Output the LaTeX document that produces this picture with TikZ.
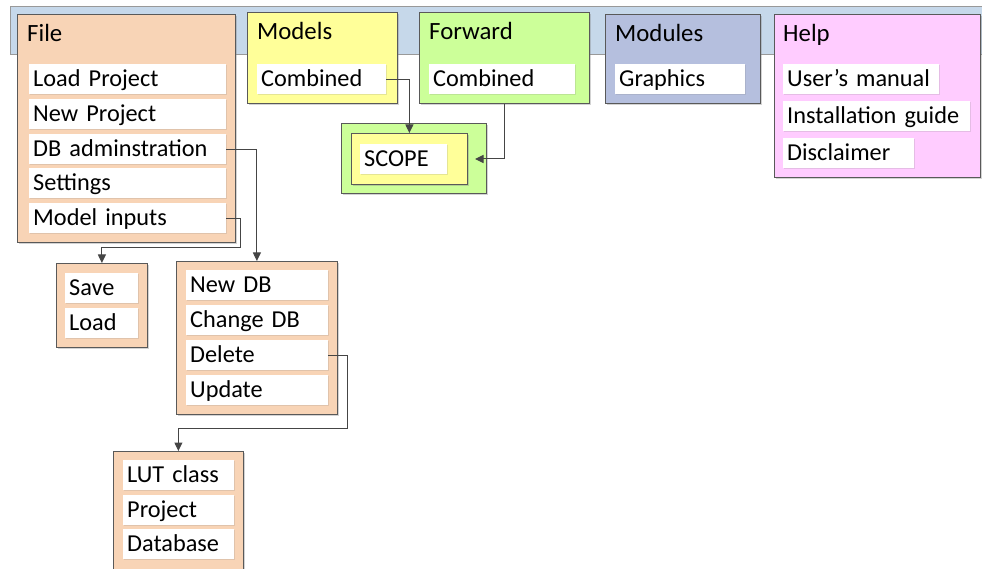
\documentclass[tikz,border=0pt]{standalone}
\usepackage{fontspec}
\setmainfont{Carlito}
\usetikzlibrary{shadows,calc,arrows.meta}
\definecolor{barblue}{HTML}{C6D8EA}
\definecolor{filepeach}{HTML}{F8D4B6}
\definecolor{modyellow}{HTML}{FFFF99}
\definecolor{fwdgreen}{HTML}{CCFF99}
\definecolor{modblue}{HTML}{B5BFDE}
\definecolor{helppink}{HTML}{FFCCFF}
\definecolor{edge}{HTML}{595959}
\definecolor{wire}{HTML}{454545}
\tikzset{
  panel/.style={draw=edge, line width=0.8pt, anchor=north west, inner sep=0pt,
    drop shadow={shadow xshift=1.5pt, shadow yshift=-1.5pt, opacity=0.35}},
  item/.style={fill=white, anchor=north west, inner xsep=4pt, inner ysep=0pt,
    minimum height=30, text height=15.5pt, text depth=0pt, align=left,
    font=\fontsize{24.3}{28}\selectfont,
    drop shadow={shadow xshift=1pt, shadow yshift=-1pt, opacity=0.2}},
  header/.style={anchor=base west, inner sep=0pt, font=\fontsize{24.8}{28}\selectfont},
  conn/.style={draw=wire, line width=1pt, -{Triangle[length=8.5pt,width=8pt]}},
}
\begin{document}
\begin{tikzpicture}[x=1pt,y=-1pt]
\useasboundingbox (0,0) rectangle (982,569);
\clip (0,0) rectangle (982,569);

% menu bar
\path[fill=barblue, draw=gray!80, line width=0.8pt] (10,6) rectangle (995,54);

% File menu
\node[panel, fill=filepeach, minimum width=218, minimum height=228] (filebox) at (17,14) {};
\node[header] (filehd) at (27,42) {File};
\node[item, text width=189] (loadproj) at (29,64) {Load Project};
\node[item, text width=189] (newproj) at (29,99) {New Project};
\node[item, text width=189] (dbadm) at (29,134) {DB adminstration};
\node[item, text width=189] (settings) at (29,168) {Settings};
\node[item, text width=189] (minputs) at (29,203) {Model inputs};

% Models menu
\node[panel, fill=modyellow, minimum width=150, minimum height=91] (modelsbox) at (247,12) {};
\node[header] (modelshd) at (257,40) {Models};
\node[item, text width=121] (mcomb) at (257,64) {Combined};

% Forward menu
\node[panel, fill=fwdgreen, minimum width=170, minimum height=91] (fwdbox) at (419,12) {};
\node[header] (fwdhd) at (429,40) {Forward};
\node[item, text width=138] (fcomb) at (429,64) {Combined};

% Modules menu
\node[panel, fill=modblue, minimum width=155, minimum height=89] (modbox) at (605,14) {};
\node[header] (modhd) at (615,42) {Modules};
\node[item, text width=122] (graphics) at (615,64) {Graphics};

% Help menu
\node[panel, fill=helppink, minimum width=206, minimum height=163] (helpbox) at (774,14) {};
\node[header] (helphd) at (783,42) {Help};
\node[item, text width=148] (manual) at (783,64) {User’s manual};
\node[item, text width=179] (install) at (783,101) {Installation guide};
\node[item, text width=123] (disclaim) at (783,138) {Disclaimer};

% SCOPE submenu
\node[panel, fill=fwdgreen, minimum width=145, minimum height=70] (scout) at (341,123) {};
\node[panel, fill=modyellow, minimum width=116, minimum height=51] (scin) at (351,133) {};
\node[item, text width=79] (scope) at (360,144) {SCOPE};
\coordinate (scentry) at (475,159);

% Save / Load submenu
\node[panel, fill=filepeach, minimum width=91, minimum height=84] (savebox) at (56,263) {};
\node[item, text width=65] (save) at (65,273) {Save};
\node[item, text width=65] (load) at (65,308) {Load};

% DB submenu
\node[panel, fill=filepeach, minimum width=161, minimum height=153] (dbbox) at (176,261) {};
\node[item, text width=134] (newdb) at (186,270) {New DB};
\node[item, text width=134] (changedb) at (186,305) {Change DB};
\node[item, text width=134] (delete) at (186,340) {Delete};
\node[item, text width=134] (update) at (186,375) {Update};

% Delete submenu
\node[panel, fill=filepeach, minimum width=130, minimum height=130] (lutbox) at (113,451) {};
\node[item, text width=103] (lut) at (123,460) {LUT class};
\node[item, text width=103] (project) at (123,495) {Project};
\node[item, text width=103] (database) at (123,529) {Database};

% connectors
\draw[conn] (mcomb.east) -| (scin.north);
\draw[conn] (fwdbox.south) |- (scentry);
\draw[conn] (dbadm.east) -| (dbbox.north);
\draw[conn] (minputs.east) -- ++(14,0) |- ($(savebox.north)+(0,-15)$) -- (savebox.north);
\draw[conn] (delete.east) -- ++(19,0) |- ($(lutbox.north)+(0,-23)$) -- (lutbox.north);
\end{tikzpicture}
\end{document}
